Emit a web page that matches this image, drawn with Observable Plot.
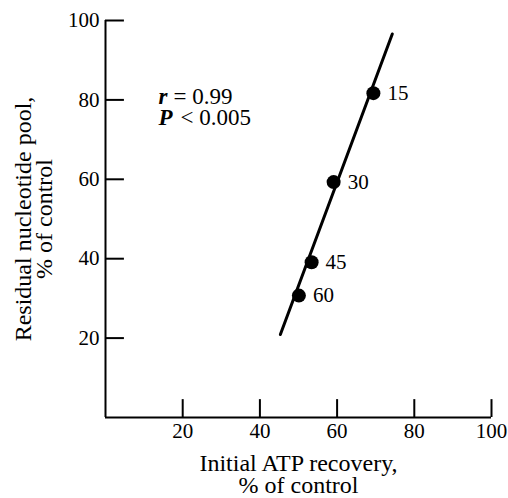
<!DOCTYPE html>
<html>
<head>
<meta charset="utf-8">
<script src="https://cdn.jsdelivr.net/npm/d3@7"></script>
<script src="https://cdn.jsdelivr.net/npm/@observablehq/plot@0.6"></script>
<style>
  html, body { margin: 0; padding: 0; background: #fff; }
  #chart { width: 508px; height: 498px; }
</style>
</head>
<body>
<div id="chart"></div>
<script>
// Data
const atpRecovery = [69.4, 59.1, 53.4, 50.1];       // x, % of control
const nucleotidePool = [81.7, 59.3, 39.1, 30.7];    // y, % of control
const timeLabels = ["15", "30", "45", "60"];        // minutes
const fitX = [45.3, 74.3];
const fitY = [20.9, 96.6];
const xTicks = [20, 40, 60, 80, 100];
const yTicks = [20, 40, 60, 80, 100];
const xTitle = "Initial ATP recovery,\n% of control";
const yTitle = "Residual nucleotide pool,\n% of control";
const statR = "0.99";
const statP = "0.005";

const points = atpRecovery.map((x, i) => ({x, y: nucleotidePool[i], label: timeLabels[i]}));
const fit = fitX.map((x, i) => ({x, y: fitY[i]}));

const font = "'Liberation Serif', 'DejaVu Serif', serif";

const chart = Plot.plot({
  width: 508,
  height: 498,
  marginLeft: 105,
  marginRight: 17,
  marginTop: 20,
  marginBottom: 81,
  style: {fontFamily: font, background: "#fff", color: "#000", overflow: "visible"},
  x: {domain: [0, 100]},
  y: {domain: [0, 100]},
  marks: [
    // axis lines
    Plot.ruleX([0], {stroke: "#000", strokeWidth: 2}),
    Plot.ruleY([0], {stroke: "#000", strokeWidth: 2}),
    // inward ticks
    Plot.ruleY(yTicks, {x1: 0, x2: 4.9, stroke: "#000", strokeWidth: 2}),
    Plot.ruleX(xTicks, {y1: 0, y2: 4.5, stroke: "#000", strokeWidth: 2}),
    // tick labels
    Plot.axisX({ticks: xTicks, tickSize: 0, tickPadding: 6, fontSize: 21, label: null}),
    Plot.axisY({ticks: yTicks, tickSize: 0, tickPadding: 6, fontSize: 21, label: null}),
    // axis titles
    Plot.text([xTitle], {frameAnchor: "bottom", dy: 38, text: d => d, fontSize: 24, lineHeight: 0.92, lineAnchor: "top", textAnchor: "middle", fill: "#000"}),
    Plot.text([yTitle], {frameAnchor: "left", dx: -90, rotate: -90, text: d => d, fontSize: 24, lineHeight: 0.9, lineAnchor: "top", textAnchor: "middle", fill: "#000"}),
    // regression line
    Plot.line(fit, {x: "x", y: "y", stroke: "#000", strokeWidth: 3}),
    // points
    Plot.dot(points, {x: "x", y: "y", r: 7, fill: "#000", stroke: "none"}),
    Plot.text(points, {x: "x", y: "y", text: "label", dx: 14, textAnchor: "start", fontSize: 21, fill: "#000"}),
    // statistics annotation
    Plot.text(["r"], {frameAnchor: "top-left", dx: 53, dy: 67, text: d => d, fontStyle: "italic", fontWeight: "bold", fontSize: 23, textAnchor: "start", fill: "#000"}),
    Plot.text(["= " + statR], {frameAnchor: "top-left", dx: 68, dy: 67, text: d => d, fontSize: 23, textAnchor: "start", fill: "#000"}),
    Plot.text(["P"], {frameAnchor: "top-left", dx: 53, dy: 88, text: d => d, fontStyle: "italic", fontWeight: "bold", fontSize: 23, textAnchor: "start", fill: "#000"}),
    Plot.text(["< " + statP], {frameAnchor: "top-left", dx: 75, dy: 88, text: d => d, fontSize: 23, textAnchor: "start", fill: "#000"})
  ]
});

document.getElementById("chart").appendChild(chart);
</script>
</body>
</html>
